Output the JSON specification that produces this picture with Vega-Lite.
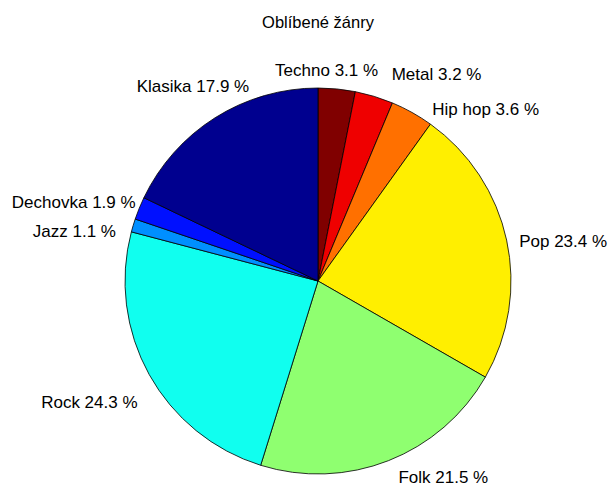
{
  "$schema": "https://vega.github.io/schema/vega-lite/v6.json",
  "autosize": "none",
  "width": 582,
  "height": 410,
  "padding": {"left": 27, "top": 76, "right": 0, "bottom": 2},
  "background": "white",
  "title": {"text": "Oblíbené žánry", "anchor": "middle", "frame": "group", "font": "Liberation Sans", "fontSize": 16.5, "fontWeight": "normal", "color": "black", "offset": 15},
  "config": {"view": {"stroke": null}},
  "data": {"values": [
    {"idx": 1, "genre": "Techno", "pct": 3.1, "label": "Techno 3.1 %"},
    {"idx": 2, "genre": "Metal", "pct": 3.2, "label": "Metal 3.2 %"},
    {"idx": 3, "genre": "Hip hop", "pct": 3.6, "label": "Hip hop 3.6 %"},
    {"idx": 4, "genre": "Pop", "pct": 23.4, "label": "Pop 23.4 %"},
    {"idx": 5, "genre": "Folk", "pct": 21.5, "label": "Folk 21.5 %"},
    {"idx": 6, "genre": "Rock", "pct": 24.3, "label": "Rock 24.3 %"},
    {"idx": 7, "genre": "Jazz", "pct": 1.1, "label": "Jazz 1.1 %"},
    {"idx": 8, "genre": "Dechovka", "pct": 1.9, "label": "Dechovka 1.9 %"},
    {"idx": 9, "genre": "Klasika", "pct": 17.9, "label": "Klasika 17.9 %"}
  ]},
  "encoding": {
    "theta": {"field": "pct", "type": "quantitative", "stack": true},
    "order": {"field": "idx", "type": "quantitative"}
  },
  "layer": [
    {
      "mark": {"type": "arc", "outerRadius": 193, "stroke": "black", "strokeWidth": 0.8},
      "encoding": {
        "color": {"field": "genre", "type": "nominal", "legend": null,
          "scale": {"domain": ["Techno", "Metal", "Hip hop", "Pop", "Folk", "Rock", "Jazz", "Dechovka", "Klasika"],
                    "range": ["#800000", "#EF0000", "#FF7000", "#FFEF00", "#8FFF70", "#10FFEF", "#008FFF", "#0010FF", "#00008F"]}}
      }
    },
    {
      "mark": {"type": "text", "radius": 212, "align": "center", "baseline": "middle", "font": "Liberation Sans", "fontSize": 17, "color": "black", "dx": -12, "dy": 1},
      "encoding": {"text": {"condition": {"test": "datum.genre === 'Techno'", "field": "label"}, "value": ""}}
    },
    {
      "mark": {"type": "text", "radius": 212, "align": "left", "baseline": "middle", "font": "Liberation Sans", "fontSize": 17, "color": "black", "dx": 12, "dy": -3},
      "encoding": {"text": {"condition": {"test": "datum.genre === 'Metal'", "field": "label"}, "value": ""}}
    },
    {
      "mark": {"type": "text", "radius": 212, "align": "left", "baseline": "middle", "font": "Liberation Sans", "fontSize": 17, "color": "black", "dx": 11, "dy": 14},
      "encoding": {"text": {"condition": {"test": "datum.genre === 'Hip hop'", "field": "label"}, "value": ""}}
    },
    {
      "mark": {"type": "text", "radius": 212, "align": "left", "baseline": "middle", "font": "Liberation Sans", "fontSize": 17, "color": "black", "dx": -6, "dy": 6},
      "encoding": {"text": {"condition": {"test": "datum.genre === 'Pop'", "field": "label"}, "value": ""}}
    },
    {
      "mark": {"type": "text", "radius": 212, "align": "left", "baseline": "middle", "font": "Liberation Sans", "fontSize": 17, "color": "black", "dx": 3, "dy": 0},
      "encoding": {"text": {"condition": {"test": "datum.genre === 'Folk'", "field": "label"}, "value": ""}}
    },
    {
      "mark": {"type": "text", "radius": 212, "align": "right", "baseline": "middle", "font": "Liberation Sans", "fontSize": 17, "color": "black", "dx": 5, "dy": 19},
      "encoding": {"text": {"condition": {"test": "datum.genre === 'Rock'", "field": "label"}, "value": ""}}
    },
    {
      "mark": {"type": "text", "radius": 212, "align": "right", "baseline": "middle", "font": "Liberation Sans", "fontSize": 17, "color": "black", "dx": 1, "dy": 12},
      "encoding": {"text": {"condition": {"test": "datum.genre === 'Jazz'", "field": "label"}, "value": ""}}
    },
    {
      "mark": {"type": "text", "radius": 212, "align": "right", "baseline": "middle", "font": "Liberation Sans", "fontSize": 17, "color": "black", "dx": 14, "dy": 2},
      "encoding": {"text": {"condition": {"test": "datum.genre === 'Dechovka'", "field": "label"}, "value": ""}}
    },
    {
      "mark": {"type": "text", "radius": 212, "align": "center", "baseline": "middle", "font": "Liberation Sans", "fontSize": 17, "color": "black", "dx": -12, "dy": -15},
      "encoding": {"text": {"condition": {"test": "datum.genre === 'Klasika'", "field": "label"}, "value": ""}}
    }
  ]
}
